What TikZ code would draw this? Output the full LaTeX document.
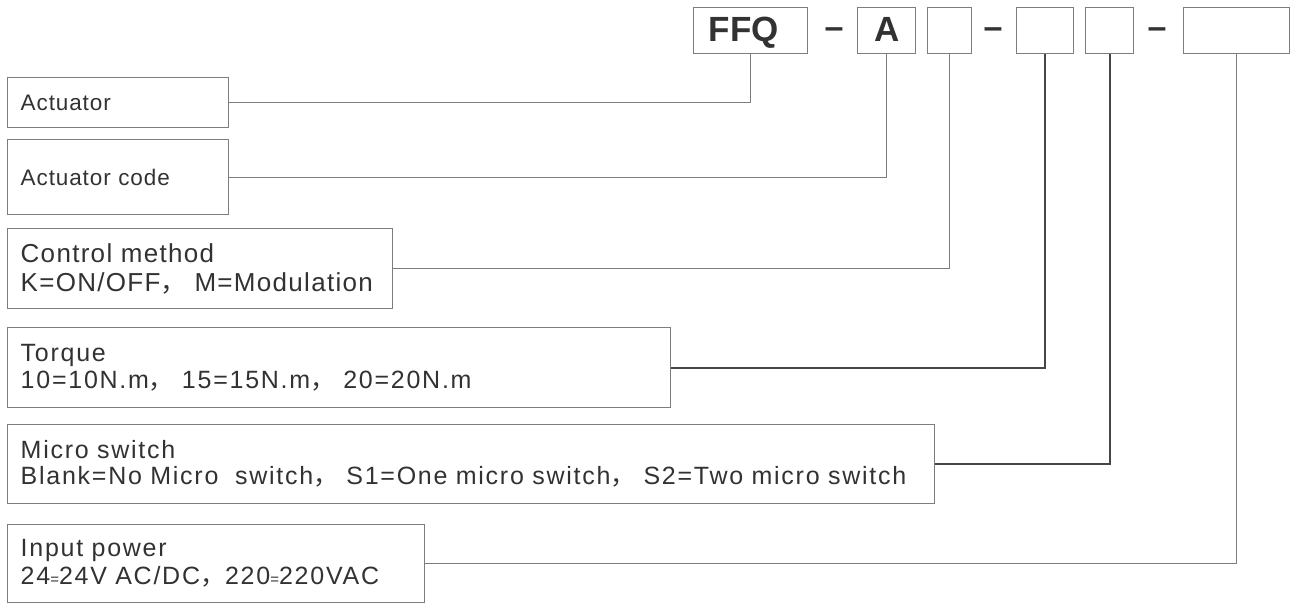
\documentclass[tikz,border=0pt]{standalone}
\usepackage{fontspec}
\setmainfont{Liberation Sans}
\newfontfamily\cjk{Noto Sans CJK SC}
\newcommand{\fwc}{{\cjk ，}\hspace{8pt}}
\newcommand{\smalleq}{{\fontsize{15}{15}\selectfont=}}
\newcommand{\legendfont}[3]{\fontsize{#1}{#2}\selectfont\addfontfeature{LetterSpace=#3}}
\definecolor{boxgray}{RGB}{125,125,125}
\definecolor{inkgray}{RGB}{50,50,50}
\definecolor{wiregray}{RGB}{70,70,70}
\begin{document}
\begin{tikzpicture}[x=1pt,y=-1pt,
  legend/.style={draw=boxgray, line width=1.4pt, anchor=north west, inner xsep=13pt, inner ysep=0pt, align=left, text=inkgray},
  codebox/.style={draw=boxgray, line width=1.4pt, anchor=north west, minimum height=46pt, inner sep=0pt, text height=24pt, text depth=2pt, text=inkgray, font=\fontsize{35}{35}\selectfont\bfseries},
  dashmark/.style={anchor=base, inner sep=0pt, text=inkgray, font=\fontsize{34}{34}\selectfont\bfseries},
  wire/.style={boxgray, line width=1.2pt},
  darkwire/.style={wiregray, line width=1.8pt}]
\useasboundingbox (0,0) rectangle (1292,603);

\node[codebox, minimum width=114pt] (ffq) at (693,7) {FFQ\kern14pt};
\node[dashmark] (d1) at (834,38) {–};
\node[codebox, minimum width=58pt] (a) at (857,7) {A};
\node[codebox, minimum width=44pt] (c) at (927,7) {};
\node[dashmark] (d2) at (993,38) {–};
\node[codebox, minimum width=57pt] (t) at (1016,7) {};
\node[codebox, minimum width=48pt] (s) at (1085,7) {};
\node[dashmark] (d3) at (1157,38) {–};
\node[codebox, minimum width=106pt] (v) at (1183,7) {};

\node[legend, text width=195pt, minimum height=50pt, font={\legendfont{22.5}{27}{4}}] (act) at (7,77) {Actuator};
\node[legend, text width=195pt, minimum height=75pt, font={\legendfont{22.5}{27}{4}}] (acode) at (7,139) {Actuator code};
\node[legend, text width=359pt, minimum height=80pt, font={\legendfont{26}{29}{5}}] (ctrl) at (7,228) {Control method\\K=ON/OFF\fwc M=Modulation};
\node[legend, text width=637pt, minimum height=80pt, font={\legendfont{25}{27}{7}}] (torque) at (7,327) {Torque\\10=10N.m\fwc 15=15N.m\fwc 20=20N.m};
\node[legend, text width=901pt, minimum height=79pt, font={\legendfont{25}{26}{7}}] (micro) at (7,424) {Micro switch\\Blank=No Micro\ \ switch\fwc S1=One micro switch\fwc S2=Two micro switch};
\node[legend, text width=391pt, minimum height=78pt, font={\legendfont{25}{28}{7}}] (power) at (7,524) {Input power\\24\smalleq 24V AC/DC{\cjk ，}220\smalleq 220VAC};

\draw[wire] (ffq.south) |- (act.east);
\draw[wire] (a.south) |- (acode.east);
\draw[wire] (c.south) |- (ctrl.east);
\draw[darkwire] (t.south) |- (torque.east);
\draw[darkwire] (s.south) |- (micro.east);
\draw[wire] (v.south) |- (power.east);
\end{tikzpicture}
\end{document}
